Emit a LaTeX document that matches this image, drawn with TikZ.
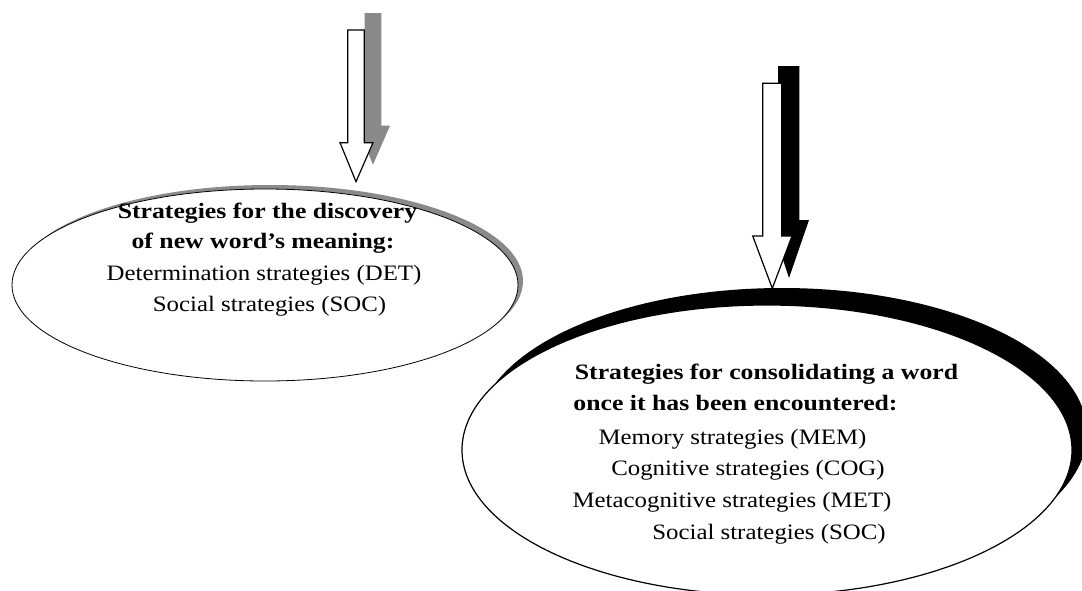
\documentclass[tikz,border=0pt]{standalone}
\usepackage{fontspec}
\setmainfont{Liberation Serif}[FakeStretch=1.13]
\newfontfamily\headfont{Liberation Serif}[FakeStretch=1.17]
\usetikzlibrary{shapes.geometric}
\definecolor{shadowgray}{RGB}{138,138,138}
\begin{document}
\begin{tikzpicture}[x=1pt,y=-1pt,
  bubble/.style={ellipse, draw=black, fill=white, inner sep=0pt},
  txt/.style={anchor=base, inner sep=0pt, font=\fontsize{22}{26}\selectfont},
  hd/.style={anchor=base, inner sep=0pt, font=\fontsize{22}{26}\headfont\bfseries},
  blockarrow/.style={draw=black, fill=white, line width=1.2pt, line join=miter},
]
\useasboundingbox (0,0) rectangle (1082,590);

% ---- discovery strategies: grey drop shadow, then the bubble
\node[ellipse, fill=shadowgray, minimum width=506pt, minimum height=192pt, inner sep=0pt] (Lsh) at (270,281) {};
\node[bubble, line width=0.8pt, minimum width=506pt, minimum height=192pt] (L) at (265,285) {};

% ---- consolidation strategies: black drop shadow, then the bubble
\node[ellipse, fill=black, minimum width=610pt, minimum height=290pt, inner sep=0pt] (Rsh) at (782,433) {};
\node[bubble, line width=1.2pt, minimum width=610pt, minimum height=290pt] (R) at (767,450) {};

% ---- left block arrow with grey shadow
\fill[shadowgray] (364.7,13) -- (381.3,13) -- (381.3,125.7) -- (390,125.7)
  -- (373,164.7) -- (357,125.7) -- (364.7,125.7) -- cycle;
\draw[blockarrow] (347.7,30) -- (364.3,30) -- (364.3,142.7) -- (373,142.7)
  -- (356,181.7) -- (340,142.7) -- (347.7,142.7) -- cycle;

% ---- right block arrow with black shadow
\fill[black] (778,66) -- (799.3,66) -- (799.3,220) -- (809,220)
  -- (789,278) -- (770,220) -- (778,220) -- cycle;
\draw[blockarrow] (762.7,83.3) -- (781.7,83.3) -- (781.7,236) -- (792,236)
  -- (772.3,288.3) -- (752.7,236) -- (762.7,236) -- cycle;

% ---- texts of the discovery bubble
\node[hd]  (L1) at (267.5,218) {Strategies for the discovery};
\node[hd]  (L2) at (263,248)   {of new word’s meaning:};
\node[txt] (L3) at (264,280)   {Determination strategies (DET)};
\node[txt] (L4) at (269.5,311) {Social strategies (SOC)};

% ---- texts of the consolidation bubble
\node[hd]  (R1) at (766.5,379) {Strategies for consolidating a word};
\node[hd]  (R2) at (735.5,410) {once it has been encountered:};
\node[txt] (R3) at (732.5,444) {Memory strategies (MEM)};
\node[txt] (R4) at (748,475)   {Cognitive strategies (COG)};
\node[txt] (R5) at (732,507)   {Metacognitive strategies (MET)};
\node[txt] (R6) at (769,539)   {Social strategies (SOC)};
\end{tikzpicture}
\end{document}
